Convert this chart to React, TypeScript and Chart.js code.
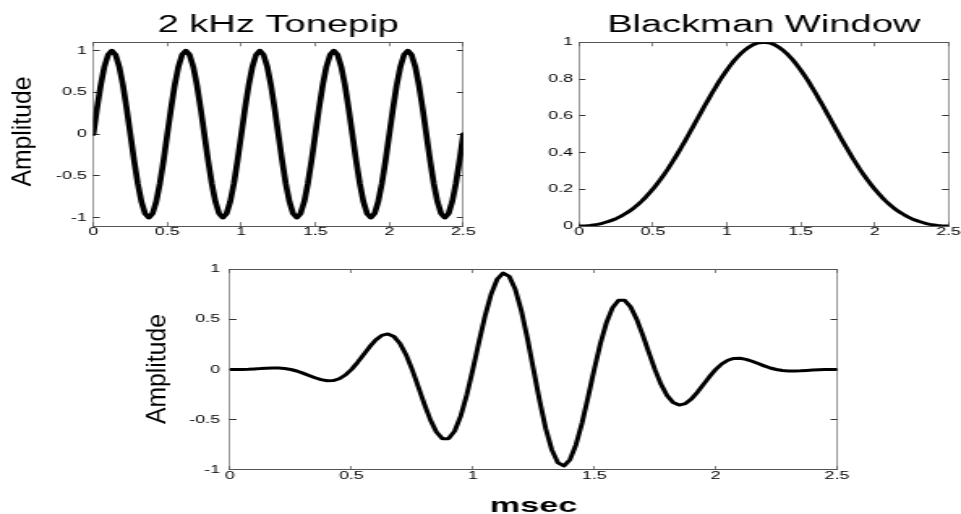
import React, { useEffect, useRef } from "react";
import { Chart, registerables } from "chart.js";

Chart.register(...registerables);

// ---------- data ----------
const TIME_MS = [
  0, 0.025, 0.05, 0.075, 0.1, 0.125, 0.15, 0.175, 0.2, 0.225,
  0.25, 0.275, 0.3, 0.325, 0.35, 0.375, 0.4, 0.425, 0.45, 0.475,
  0.5, 0.525, 0.55, 0.575, 0.6, 0.625, 0.65, 0.675, 0.7, 0.725,
  0.75, 0.775, 0.8, 0.825, 0.85, 0.875, 0.9, 0.925, 0.95, 0.975,
  1, 1.025, 1.05, 1.075, 1.1, 1.125, 1.15, 1.175, 1.2, 1.225,
  1.25, 1.275, 1.3, 1.325, 1.35, 1.375, 1.4, 1.425, 1.45, 1.475,
  1.5, 1.525, 1.55, 1.575, 1.6, 1.625, 1.65, 1.675, 1.7, 1.725,
  1.75, 1.775, 1.8, 1.825, 1.85, 1.875, 1.9, 1.925, 1.95, 1.975,
  2, 2.025, 2.05, 2.075, 2.1, 2.125, 2.15, 2.175, 2.2, 2.225,
  2.25, 2.275, 2.3, 2.325, 2.35, 2.375, 2.4, 2.425, 2.45, 2.475,
  2.5,
];

const TONEPIP = [
  0, 0.309, 0.588, 0.809, 0.951, 1, 0.951, 0.809, 0.588, 0.309,
  0, -0.309, -0.588, -0.809, -0.951, -1, -0.951, -0.809, -0.588, -0.309,
  0, 0.309, 0.588, 0.809, 0.951, 1, 0.951, 0.809, 0.588, 0.309,
  0, -0.309, -0.588, -0.809, -0.951, -1, -0.951, -0.809, -0.588, -0.309,
  0, 0.309, 0.588, 0.809, 0.951, 1, 0.951, 0.809, 0.588, 0.309,
  0, -0.309, -0.588, -0.809, -0.951, -1, -0.951, -0.809, -0.588, -0.309,
  0, 0.309, 0.588, 0.809, 0.951, 1, 0.951, 0.809, 0.588, 0.309,
  0, -0.309, -0.588, -0.809, -0.951, -1, -0.951, -0.809, -0.588, -0.309,
  0, 0.309, 0.588, 0.809, 0.951, 1, 0.951, 0.809, 0.588, 0.309,
  0, -0.309, -0.588, -0.809, -0.951, -1, -0.951, -0.809, -0.588, -0.309,
  0,
];

const BLACKMAN = [
  0, 0, 0.001, 0.003, 0.006, 0.009, 0.013, 0.019, 0.025, 0.032,
  0.04, 0.05, 0.061, 0.073, 0.086, 0.101, 0.118, 0.136, 0.156, 0.178,
  0.201, 0.226, 0.252, 0.28, 0.309, 0.34, 0.372, 0.405, 0.439, 0.474,
  0.51, 0.546, 0.582, 0.618, 0.654, 0.689, 0.724, 0.757, 0.79, 0.82,
  0.849, 0.876, 0.901, 0.923, 0.943, 0.96, 0.974, 0.986, 0.994, 0.998,
  1, 0.998, 0.994, 0.986, 0.974, 0.96, 0.943, 0.923, 0.901, 0.876,
  0.849, 0.82, 0.79, 0.757, 0.724, 0.689, 0.654, 0.618, 0.582, 0.546,
  0.51, 0.474, 0.439, 0.405, 0.372, 0.34, 0.309, 0.28, 0.252, 0.226,
  0.201, 0.178, 0.156, 0.136, 0.118, 0.101, 0.086, 0.073, 0.061, 0.05,
  0.04, 0.032, 0.025, 0.019, 0.013, 0.009, 0.006, 0.003, 0.001, 0,
  0,
];

const WINDOWED = [
  0, 0, 0.001, 0.003, 0.006, 0.009, 0.013, 0.015, 0.015, 0.01,
  0, -0.015, -0.036, -0.059, -0.082, -0.101, -0.112, -0.11, -0.092, -0.055,
  0, 0.07, 0.148, 0.226, 0.294, 0.34, 0.354, 0.328, 0.258, 0.147,
  0, -0.169, -0.342, -0.5, -0.622, -0.689, -0.688, -0.613, -0.464, -0.253,
  0, 0.271, 0.53, 0.747, 0.897, 0.96, 0.927, 0.797, 0.584, 0.309,
  0, -0.309, -0.584, -0.797, -0.927, -0.96, -0.897, -0.747, -0.53, -0.271,
  0, 0.253, 0.464, 0.613, 0.688, 0.689, 0.622, 0.5, 0.342, 0.169,
  0, -0.147, -0.258, -0.328, -0.354, -0.34, -0.294, -0.226, -0.148, -0.07,
  0, 0.055, 0.092, 0.11, 0.112, 0.101, 0.082, 0.059, 0.036, 0.015,
  0, -0.01, -0.015, -0.015, -0.013, -0.009, -0.006, -0.003, -0.001, 0,
  0,
];

const X_TICKS = [0, 0.5, 1, 1.5, 2, 2.5];
const AMP_TICKS = [-1, -0.5, 0, 0.5, 1];
const WIN_TICKS = [0, 0.2, 0.4, 0.6, 0.8, 1];

// ---------- layout ----------
const PAGE_W = 961;
const PAGE_H = 514;
const CANVAS_W = 593; // drawn narrow, then stretched horizontally like the reference
const SX = PAGE_W / CANVAS_W;
const FONT = "'Liberation Sans', Arial, Helvetica, sans-serif";
const TICK_LEN = 4;

type Panel = {
  values: number[];
  yMin: number;
  yMax: number;
  yTicks: number[];
  title?: string;
  xTitle?: string;
  yLabel?: string;
  yLabelX?: number;
  yLabelY?: number;
  plot: { left: number; right: number; top: number; bottom: number };
  lineWidth: number;
  yTickGap: number;
};

const PANELS: Panel[] = [
  {
    values: TONEPIP,
    yMin: -1.1,
    yMax: 1.1,
    yTicks: AMP_TICKS,
    title: "2 kHz Tonepip",
    yLabel: "Amplitude",
    yLabelX: 31,
    yLabelY: 131.5,
    plot: { left: 93.3, right: 463.3, top: 42.3, bottom: 226 },
    lineWidth: 3.7,
    yTickGap: 6.5,
  },
  {
    values: BLACKMAN,
    yMin: 0,
    yMax: 1,
    yTicks: WIN_TICKS,
    title: "Blackman Window",
    plot: { left: 579, right: 948.5, top: 42.3, bottom: 226 },
    lineWidth: 3,
    yTickGap: 6,
  },
  {
    values: WINDOWED,
    yMin: -1,
    yMax: 1,
    yTicks: AMP_TICKS,
    xTitle: "msec",
    yLabel: "Amplitude",
    yLabelX: 165,
    yLabelY: 369,
    plot: { left: 230, right: 837, top: 269, bottom: 470 },
    lineWidth: 3,
    yTickGap: 10,
  },
];

const Y_LABEL_SIZE = 28;
const Y_LABEL_LEN = 110; // length of the rotated label on screen

const yLabelPlugin = {
  id: "yLabel",
  afterDraw(chart: any, _args: any, opts: any) {
    if (!opts || !opts.text) return;
    const ctx = chart.ctx;
    ctx.save();
    ctx.font = `${opts.size}px ${FONT}`;
    const natural = ctx.measureText(opts.text).width;
    ctx.translate(opts.x / SX, opts.y);
    ctx.scale(1 / SX, 1);
    ctx.rotate(-Math.PI / 2);
    ctx.scale(opts.len / natural, 1);
    ctx.fillStyle = "#000";
    ctx.textAlign = "center";
    ctx.textBaseline = "alphabetic";
    ctx.fillText(opts.text, 0, 0);
    ctx.restore();
  },
};

function setTicks(values: number[]) {
  return (scale: any) => {
    scale.ticks = values.map((v) => ({ value: v }));
  };
}

function buildConfig(p: Panel): any {
  const left = p.plot.left / SX;
  const right = p.plot.right / SX;
  const padBottom = p.xTitle ? 0.8 : 0;
  const xAxisH = PAGE_H - padBottom - p.plot.bottom;
  const titleFontSize = 23.5;
  const titlePadTop = 13.3;
  const titlePadBottom = p.plot.top - titlePadTop - titleFontSize;
  const axisColor = "#555";
  const tickFont = { family: FONT, size: 11 };

  const xGrid = {
    drawOnChartArea: false,
    drawTicks: true,
    tickLength: -TICK_LEN,
    tickWidth: 1 / SX,
    color: "#333",
  };
  const yGrid = {
    drawOnChartArea: false,
    drawTicks: true,
    tickLength: -TICK_LEN,
    tickWidth: 1,
    color: "#333",
  };

  return {
    type: "line",
    data: {
      labels: TIME_MS,
      datasets: [
        {
          data: p.values,
          borderColor: "#000",
          borderWidth: p.lineWidth,
          pointRadius: 0,
          tension: 0,
          fill: false,
          borderJoinStyle: "round",
          borderCapStyle: "round",
        },
      ],
    },
    options: {
      responsive: false,
      animation: false,
      devicePixelRatio: 1,
      events: [],
      layout: {
        autoPadding: false,
        padding: {
          left: 0,
          right: CANVAS_W - right,
          top: p.title ? 0 : p.plot.top,
          bottom: padBottom,
        },
      },
      plugins: {
        legend: { display: false },
        tooltip: { enabled: false },
        title: p.title
          ? {
              display: true,
              text: p.title,
              fullSize: false,
              color: "#000",
              font: { family: FONT, size: titleFontSize, weight: "normal", lineHeight: 1 },
              padding: { top: titlePadTop, bottom: titlePadBottom },
            }
          : { display: false },
        yLabel: p.yLabel
          ? { text: p.yLabel, x: p.yLabelX, y: p.yLabelY, size: Y_LABEL_SIZE, len: Y_LABEL_LEN }
          : { text: "" },
      },
      scales: {
        x: {
          type: "linear",
          position: "bottom",
          min: 0,
          max: 2.5,
          afterBuildTicks: setTicks(X_TICKS),
          afterFit: (s: any) => {
            s.height = xAxisH;
            s.paddingLeft = 0;
            s.paddingRight = 0;
          },
          grid: xGrid,
          border: { display: true, color: axisColor, width: 1 },
          ticks: {
            autoSkip: false,
            maxRotation: 0,
            minRotation: 0,
            padding: TICK_LEN - 0.6,
            color: "#000",
            font: tickFont,
            callback: (v: any) => String(v),
          },
          title: p.xTitle
            ? {
                display: true,
                text: p.xTitle,
                color: "#000",
                font: { family: FONT, size: 21, weight: "bold", lineHeight: 1 },
                padding: { top: 0, bottom: -4 },
              }
            : { display: false },
        },
        x2: {
          type: "linear",
          position: "top",
          min: 0,
          max: 2.5,
          afterBuildTicks: setTicks(X_TICKS),
          afterFit: (s: any) => {
            s.height = 0;
            s.paddingLeft = 0;
            s.paddingRight = 0;
          },
          grid: xGrid,
          border: { display: true, color: axisColor, width: 1 },
          ticks: { display: false },
        },
        y: {
          type: "linear",
          position: "left",
          min: p.yMin,
          max: p.yMax,
          afterBuildTicks: setTicks(p.yTicks),
          afterFit: (s: any) => {
            s.width = left;
            s.paddingTop = 0;
            s.paddingBottom = 0;
          },
          grid: yGrid,
          border: { display: true, color: axisColor, width: 1 / SX },
          ticks: {
            padding: p.yTickGap / SX + TICK_LEN,
            color: "#000",
            font: tickFont,
            callback: (v: any) => String(v),
          },
        },
        y2: {
          type: "linear",
          position: "right",
          min: p.yMin,
          max: p.yMax,
          afterBuildTicks: setTicks(p.yTicks),
          afterFit: (s: any) => {
            s.width = 0;
            s.paddingTop = 0;
            s.paddingBottom = 0;
          },
          grid: yGrid,
          border: { display: true, color: axisColor, width: 1 / SX },
          ticks: { display: false },
        },
      },
    },
    plugins: [yLabelPlugin],
  };
}

export default function App() {
  const r0 = useRef<HTMLCanvasElement | null>(null);
  const r1 = useRef<HTMLCanvasElement | null>(null);
  const r2 = useRef<HTMLCanvasElement | null>(null);
  const refs = [r0, r1, r2];

  useEffect(() => {
    const charts = PANELS.map((p, i) => new Chart(refs[i].current as HTMLCanvasElement, buildConfig(p)));
    return () => {
      charts.forEach((c) => c.destroy());
    };
  }, []);

  return (
    <div
      style={{
        position: "absolute",
        left: 0,
        top: 0,
        width: PAGE_W,
        height: PAGE_H,
        background: "#fff",
        overflow: "hidden",
      }}
    >
      {PANELS.map((_, i) => (
        <canvas
          key={i}
          ref={refs[i]}
          width={CANVAS_W}
          height={PAGE_H}
          style={{
            position: "absolute",
            left: 0,
            top: 0,
            width: `${PAGE_W}px`,
            height: `${PAGE_H}px`,
          }}
        />
      ))}
    </div>
  );
}
